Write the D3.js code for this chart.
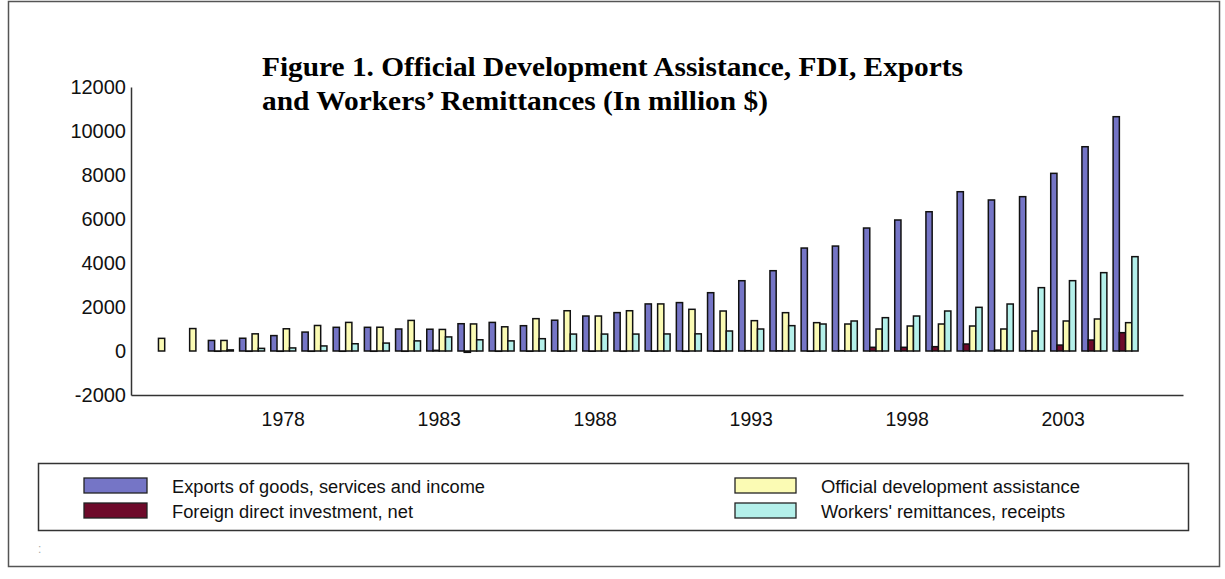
<!DOCTYPE html>
<html><head><meta charset="utf-8">
<script src="https://cdn.jsdelivr.net/npm/d3@7"></script>
<style>body{margin:0;background:#fff;} svg{display:block;}</style>
</head><body><svg id="chart" width="1225" height="579"></svg>
<script>
const years = d3.range(1974, 2006);
const exportsVals = [null, null, 480, 580, 700, 860, 1077, 1077, 1000, 990, 1240, 1300, 1150, 1400, 1590, 1745, 2140, 2200, 2650, 3195, 3650, 4680, 4770, 5590, 5955, 6330, 7240, 6865, 7015, 8075, 9285, 10650];
const fdiVals = [null, null, 1, 1, 1, 1, 1, 1, 1, 30, -60, 1, 2, 2, 2, 1, 3, 1, 4, 14, 11, 2, 14, 168, 168, 197, 318, 40, 15, 270, 500, 833];
const odaVals = [575, 1020, 480, 780, 1010, 1160, 1300, 1080, 1390, 980, 1230, 1100, 1470, 1830, 1590, 1830, 2140, 1895, 1818, 1379, 1742, 1288, 1227, 1000, 1136, 1227, 1136, 1000, 909, 1364, 1455, 1288];
const remitVals = [null, null, 50, 120, 140, 230, 330, 360, 460, 640, 510, 460, 560, 770, 770, 770, 775, 780, 909, 1000, 1152, 1227, 1364, 1515, 1590, 1818, 1985, 2136, 2879, 3197, 3561, 4288];
const seriesNames = ["Exports of goods, services and income", "Foreign direct investment, net", "Official development assistance", "Workers' remittances, receipts"];
const seriesValues = [exportsVals, fdiVals, odaVals, remitVals];
const seriesColors = ["#7575c6", "#6e0a2a", "#fbfbb4", "#b4f0ea"];
const yTicks = [-2000, 0, 2000, 4000, 6000, 8000, 10000, 12000];
const xLabelYears = [1978, 1983, 1988, 1993, 1998, 2003];
const titleLines = ["Figure 1. Official Development Assistance, FDI, Exports", "and Workers\u2019 Remittances (In million $)"];

const svg = d3.select("#chart");
svg.append("rect").attr("x", 8.5).attr("y", 1.5).attr("width", 1211).attr("height", 565)
  .attr("fill", "none").attr("stroke", "#555").attr("stroke-width", 1.5);

const x0 = d3.scaleBand().domain(years).range([131, 1183])
  .paddingInner(0.2).paddingOuter(0.96).align(0.25);
const x1 = d3.scaleBand().domain(d3.range(4)).range([0, x0.bandwidth()]).padding(0);
const y = d3.scaleLinear().domain([-2000, 12000]).range([395, 87]);

// axes
const yAxis = d3.axisLeft(y).tickValues(yTicks).tickSize(0).tickPadding(5).tickFormat(d => String(d));
const gy = svg.append("g").attr("transform", "translate(131,0)").call(yAxis);
gy.select(".domain").attr("stroke", "#333").attr("stroke-width", 1.5);
gy.selectAll("text").attr("font-family", "Liberation Sans, Arial, sans-serif").attr("font-size", 20).attr("fill", "#111");

const xAxis = d3.axisBottom(x0).tickValues(xLabelYears).tickSize(0).tickSizeOuter(0).tickPadding(17);
const gx = svg.append("g").attr("transform", "translate(0,395)").call(xAxis);
gx.select(".domain").attr("stroke", "#333").attr("stroke-width", 1.5);
gx.selectAll("text").attr("font-family", "Liberation Sans, Arial, sans-serif").attr("font-size", 19.5).attr("fill", "#111");

// bars
const rows = [];
years.forEach((yr, i) => {
  seriesValues.forEach((arr, s) => {
    const v = arr[i];
    if (v !== null) rows.push({year: yr, s: s, v: v});
  });
});
svg.append("g").selectAll("rect").data(rows).join("rect")
  .attr("x", d => x0(d.year) + x1(d.s))
  .attr("width", x1.bandwidth())
  .attr("y", d => y(Math.max(0, d.v)))
  .attr("height", d => Math.max(0.3, Math.abs(y(d.v) - y(0))))
  .attr("fill", d => seriesColors[d.s])
  .attr("stroke", "#111").attr("stroke-width", 1.5);

// title
const titleWidths = [701, 506];
titleLines.forEach((t, i) => {
  svg.append("text").attr("x", 262).attr("y", 76 + i * 34)
    .attr("font-family", "Liberation Serif, Times New Roman, serif")
    .attr("font-weight", "bold").attr("font-size", 28)
    .attr("textLength", titleWidths[i]).attr("lengthAdjust", "spacingAndGlyphs")
    .attr("fill", "#000").text(t);
});

// legend
svg.append("rect").attr("x", 38.5).attr("y", 463.5).attr("width", 1150).attr("height", 67)
  .attr("fill", "none").attr("stroke", "#333").attr("stroke-width", 1.5);
const legendPos = [
  {sx: 84, sw: 63, tx: 172, row: 0, tw: 313},
  {sx: 84, sw: 63, tx: 172, row: 1, tw: 241},
  {sx: 735, sw: 61, tx: 821, row: 0, tw: 259},
  {sx: 735, sw: 61, tx: 821, row: 1, tw: 244}
];
const lg = svg.append("g");
seriesNames.forEach((name, s) => {
  const p = legendPos[s];
  lg.append("rect").attr("x", p.sx).attr("y", 478 + p.row * 25).attr("width", p.sw).attr("height", 15)
    .attr("fill", seriesColors[s]).attr("stroke", "#222").attr("stroke-width", 1.3);
  lg.append("text").attr("x", p.tx).attr("y", 493 + p.row * 25)
    .attr("font-family", "Liberation Sans, Arial, sans-serif").attr("font-size", 18)
    .attr("textLength", p.tw).attr("lengthAdjust", "spacingAndGlyphs")
    .attr("fill", "#111").text(name);
});

svg.append("text").attr("x", 38).attr("y", 553).attr("font-family", "Liberation Sans, Arial, sans-serif")
  .attr("font-size", 12).attr("fill", "#aaa").text(":");
</script>
</body></html>
